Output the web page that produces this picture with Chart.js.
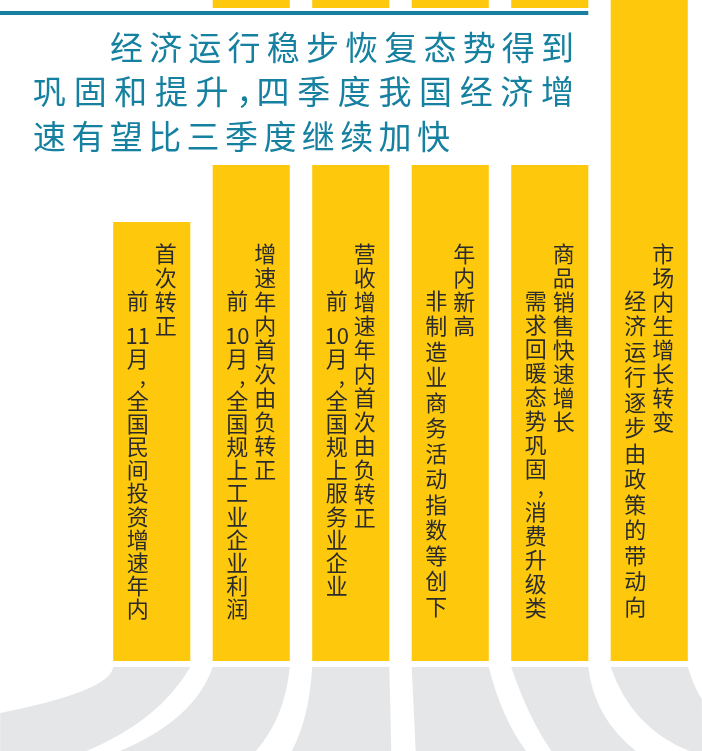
<!DOCTYPE html>
<html>
<head>
<meta charset="utf-8">
<script src="https://cdn.jsdelivr.net/npm/chart.js@4.4.1/dist/chart.umd.min.js"></script>
<style>
    html, body { margin: 0; padding: 0; background: #fff; }
    #wrap { position: relative; width: 702px; height: 751px; }
</style>
</head>
<body>
<div id="wrap"><canvas id="chart-main"></canvas></div>
<script>
// Chart data
const headlines = ['首次转正', '增速年内首次由负转正', '营收增速年内首次由负转正', '年内新高', '商品销售快速增长', '市场内生增长转变'];
const details = ['前 11月，全国民间投资增速年内', '前 10月，全国规上工业企业利润', '前 10月，全国规上服务业企业', '非制造业商务活动指数等创下', '需求回暖态势巩固，消费升级类', '经济运行逐步由政策的带动向'];
const barValues = [66.4, 100, 100, 100, 100, 100];
const titleLines = ['经济运行稳步恢复态势得到', '巩固和提升，四季度我国经济增', '速有望比三季度继续加快'];

const YELLOW = '#fec90d';
const TEAL = '#15809f';
const GREY = '#e5e6e8';
const INK = '#2b2b2b';
const CJK = '"Noto Sans CJK SC", "Noto Sans", sans-serif';

// Split a column string into tokens: digit runs stay together, space is a small gap
function tokenize(str) {
    const out = [];
    let i = 0;
    while (i < str.length) {
        const c = str[i];
        if (/[0-9]/.test(c)) {
            let j = i;
            while (j < str.length && /[0-9]/.test(str[j])) j++;
            out.push({ t: str.slice(i, j), k: 'num' });
            i = j;
            continue;
        }
        if (c === ' ') out.push({ t: '', k: 'gap' });
        else if (c === '，') out.push({ t: ',', k: 'comma' });
        else out.push({ t: c, k: 'cjk' });
        i++;
    }
    return out;
}

// Per-column spacing (right headline column, left detail column)
const headPitch = 24;
const detailPitch = [23.2, 23.2, 23.2, 25.5, 24, 25.5];

function drawColumn(ctx, str, cx, top, pitch) {
    let y = top;
    ctx.textAlign = 'center';
    tokenize(str).forEach(tok => {
        if (tok.k === 'gap') { y += pitch * 0.5; return; }
        if (tok.k === 'comma') {
            ctx.fillText(tok.t, cx + 5, y + 4);
            y += pitch * 0.8;
            return;
        }
        ctx.fillText(tok.t, cx, y + 10.5);
        y += pitch;
    });
}

// Grey "road" shapes fanning out below each bar
const roadPlugin = {
    id: 'roads',
    beforeDatasetsDraw(chart) {
        const ctx = chart.ctx;
        const bars = chart.getDatasetMeta(0).data;
        const yTop = chart.chartArea.bottom + 6;
        const yBot = chart.height;
        // control point / end point offsets from the bar's left and right edges
        const shapes = [
            { l: [[-3, 24], [-113, 46]], r: [[-31, 54], [-106, 85]] },
            { l: [[-18, 53], [-95, 85]], r: [[-5, 52], [-35, 85]] },
            { l: [[-3, 52], [-21, 85]], r: [[1, 40], [2, 85]] },
            { l: [[2, 40], [4, 85]], r: [[13, 52], [38, 85]] },
            { l: [[18, 53], [41, 85]], r: [[6, 52], [49, 85]] },
            { l: [[21, 62], [81, 85]], r: [[7, 22], [14, 32]] }
        ];
        ctx.save();
        ctx.fillStyle = GREY;
        bars.forEach((bar, i) => {
            const w = bar.width;
            const xl = bar.x - w / 2;
            const xr = bar.x + w / 2;
            const s = shapes[i];
            ctx.beginPath();
            ctx.moveTo(xl, yTop);
            ctx.lineTo(xr, yTop);
            ctx.quadraticCurveTo(xr + s.r[0][0], yTop + s.r[0][1], xr + s.r[1][0], yTop + s.r[1][1]);
            if (i === 5) ctx.lineTo(chart.width, yBot);
            ctx.lineTo(i === 5 ? xl + s.l[1][0] : xr + s.r[1][0], yBot);
            ctx.lineTo(xl + s.l[1][0], yBot);
            ctx.lineTo(xl + s.l[1][0], yTop + s.l[1][1]);
            ctx.quadraticCurveTo(xl + s.l[0][0], yTop + s.l[0][1], xl, yTop);
            ctx.closePath();
            ctx.fill();
        });
        ctx.restore();
    }
};

// White title panel, rule and the vertical captions inside the bars
const labelPlugin = {
    id: 'labels',
    afterDatasetsDraw(chart) {
        const ctx = chart.ctx;
        const bars = chart.getDatasetMeta(0).data;
        ctx.save();

        // title panel covering the upper part of the middle bars
        const panelRight = bars[4].x + bars[4].width / 2;
        ctx.fillStyle = '#fff';
        ctx.fillRect(0, 8, panelRight + 6, 157);
        ctx.fillStyle = TEAL;
        ctx.fillRect(0, 11, panelRight, 4);

        // title: justified between a start and end x, the comma takes half a cell
        ctx.font = '33px ' + CJK;
        ctx.textBaseline = 'middle';
        ctx.textAlign = 'left';
        const glyphW = 31;
        const spans = [[110, 572], [33, 572], [33, null]];
        titleLines.forEach((line, li) => {
            const chars = [...line];
            const units = chars.slice(0, -1).reduce((s, c) => s + (c === '，' ? 0.5 : 1), 0);
            const [x0, x1] = spans[li];
            const p = x1 ? (x1 - glyphW - x0) / units : 38.4;
            let x = x0;
            chars.forEach(ch => {
                ctx.fillText(ch, x, 47 + li * 44.5);
                x += ch === '，' ? p * 0.5 : p;
            });
        });

        // captions
        ctx.fillStyle = INK;
        ctx.font = '22px ' + CJK;
        bars.forEach((bar, i) => {
            drawColumn(ctx, headlines[i], bar.x + 14, 243, headPitch);
            drawColumn(ctx, details[i], bar.x - 14, 290, detailPitch[i]);
        });
        ctx.restore();
    }
};

new Chart(document.getElementById('chart-main'), {
    type: 'bar',
    data: {
        labels: headlines,
        datasets: [{
            data: barValues,
            backgroundColor: YELLOW,
            borderWidth: 0,
            barPercentage: 0.775,
            categoryPercentage: 1
        }]
    },
    options: {
        responsive: true,
        maintainAspectRatio: false,
        animation: false,
        layout: { padding: { left: 102, right: 3, top: 0, bottom: 90 } },
        scales: {
            x: { display: false },
            y: { display: false, min: 0, max: 100 }
        },
        plugins: {
            legend: { display: false },
            tooltip: { enabled: false }
        }
    },
    plugins: [roadPlugin, labelPlugin]
});
</script>
</body>
</html>
